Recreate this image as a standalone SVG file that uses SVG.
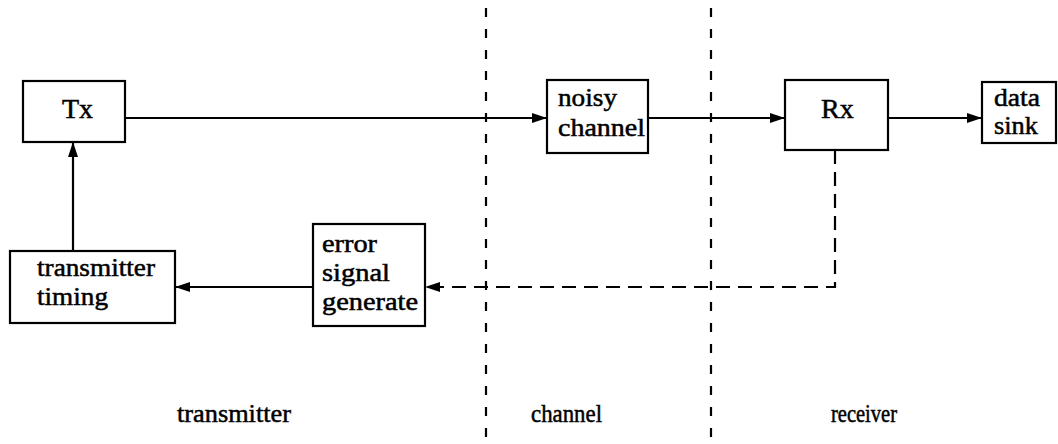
<svg xmlns="http://www.w3.org/2000/svg" width="1058" height="444" viewBox="0 0 1058 444">
  <style>
    .box { fill: #fff; stroke: #000; stroke-width: 2.2; }
    .lbl { font-family: "Liberation Serif", "Times New Roman", serif; font-size: 25px; fill: #000; stroke: #000; stroke-width: 0.5; }
    .big { font-size: 28px; }
    .wire { fill: none; stroke: #000; stroke-width: 2.2; }
    .dash { fill: none; stroke: #000; stroke-width: 2.2; stroke-dasharray: 14 8; }
    .zone { fill: none; stroke: #000; stroke-width: 2.2; stroke-dasharray: 9 12; }
  </style>
  <defs>
    <marker id="head" markerUnits="userSpaceOnUse" markerWidth="16" markerHeight="11" refX="15" refY="5" orient="auto">
      <path d="M0,0 L15,5 L0,10 z" fill="#000"/>
    </marker>
  </defs>

  <rect width="1058" height="444" fill="#fff"/>

  <!-- section boundaries -->
  <g id="boundaries">
    <line class="zone" x1="486" y1="8" x2="486" y2="444"/>
    <line class="zone" x1="711" y1="8" x2="711" y2="444"/>
  </g>

  <!-- connectors -->
  <g id="connectors">
    <line class="wire" x1="125" y1="118" x2="547" y2="118" marker-end="url(#head)"/>
    <line class="wire" x1="648" y1="118" x2="785" y2="118" marker-end="url(#head)"/>
    <line class="wire" x1="888" y1="118" x2="982" y2="118" marker-end="url(#head)"/>
    <line class="wire" x1="73" y1="251" x2="73" y2="142" marker-end="url(#head)"/>
    <line class="wire" x1="313" y1="287" x2="175" y2="287" marker-end="url(#head)"/>
    <polyline class="dash" points="835,150 835,287 425,287" marker-end="url(#head)"/>
  </g>

  <g id="tx">
    <rect class="box" x="23" y="81" width="102" height="61"/>
    <text class="lbl big" x="62" y="118">Tx</text>
  </g>

  <g id="noisy-channel">
    <rect class="box" x="547" y="80" width="101" height="73"/>
    <text class="lbl" x="558" y="106" textLength="59" lengthAdjust="spacingAndGlyphs">noisy</text>
    <text class="lbl" x="558" y="136" textLength="87" lengthAdjust="spacingAndGlyphs">channel</text>
  </g>

  <g id="rx">
    <rect class="box" x="785" y="80" width="103" height="70"/>
    <text class="lbl big" x="821" y="118">Rx</text>
  </g>

  <g id="data-sink">
    <rect class="box" x="982" y="82" width="74" height="61"/>
    <text class="lbl" x="994" y="106" textLength="46" lengthAdjust="spacingAndGlyphs">data</text>
    <text class="lbl" x="994" y="134" textLength="44" lengthAdjust="spacingAndGlyphs">sink</text>
  </g>

  <g id="transmitter-timing">
    <rect class="box" x="10" y="251" width="165" height="72"/>
    <text class="lbl" x="37" y="276" textLength="118" lengthAdjust="spacingAndGlyphs">transmitter</text>
    <text class="lbl" x="37" y="305" textLength="71" lengthAdjust="spacingAndGlyphs">timing</text>
  </g>

  <g id="error-signal-generate">
    <rect class="box" x="313" y="224" width="112" height="102"/>
    <text class="lbl" x="322" y="252" textLength="55" lengthAdjust="spacingAndGlyphs">error</text>
    <text class="lbl" x="322" y="281" textLength="68" lengthAdjust="spacingAndGlyphs">signal</text>
    <text class="lbl" x="322" y="310" textLength="96" lengthAdjust="spacingAndGlyphs">generate</text>
  </g>

  <!-- section captions -->
  <g id="captions">
    <text class="lbl" x="177" y="422" textLength="114" lengthAdjust="spacingAndGlyphs">transmitter</text>
    <text class="lbl" x="531" y="422" textLength="71" lengthAdjust="spacingAndGlyphs">channel</text>
    <text class="lbl" x="831" y="422" textLength="66" lengthAdjust="spacingAndGlyphs">receiver</text>
  </g>
</svg>
